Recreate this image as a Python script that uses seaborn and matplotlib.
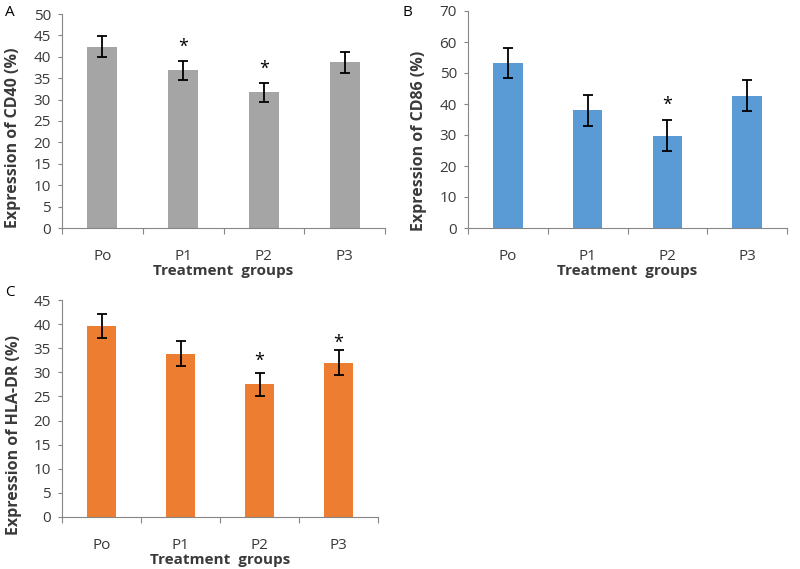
import matplotlib
matplotlib.use("Agg")
import matplotlib.pyplot as plt
import seaborn as sns
import pandas as pd
import numpy as np

groups = ["Po", "P1", "P2", "P3"]

cd40 = [42.4, 36.8, 31.7, 38.7]
cd40_err = [2.4, 2.3, 2.2, 2.4]
cd40_star = [None, 42.3, 37.3, None]

cd86 = [53.3, 38.0, 29.7, 42.7]
cd86_err = [4.9, 5.0, 5.0, 5.0]
cd86_star = [None, None, 39.6, None]

hla = [39.6, 33.9, 27.5, 32.0]
hla_err = [2.4, 2.6, 2.4, 2.6]
hla_star = [None, None, 32.4, 36.2]

plt.rcParams['font.family'] = ['Open Sans', 'DejaVu Sans']
TXT = "#3a3a3a"

fig = plt.figure(figsize=(8.0, 5.69), dpi=100)
W, H = 800, 569

def make_ax(l, r, t, b):
    return fig.add_axes([l / W, 1 - b / H, (r - l) / W, (b - t) / H])

panels = [
    ("A", make_ax(62, 385, 14, 228), cd40, cd40_err, cd40_star, "#A5A5A5", "Expression of CD40 (%)", 50, 5, (5, 12), 0.42),
    ("B", make_ax(468, 787, 11, 228), cd86, cd86_err, cd86_star, "#5B9BD5", "Expression of CD86 (%)", 70, 10, (403, 12), 0.40),
    ("C", make_ax(62, 378, 300, 517), hla, hla_err, hla_star, "#ED7D31", "Expression of HLA-DR (%)", 45, 5, (5, 293), 0.38),
]

for letter, ax, vals, errs, stars, color, ylabel, ymax, step, (lx, ly), ylab_y in panels:
    df = pd.DataFrame({"group": groups, "value": vals})
    sns.barplot(data=df, x="group", y="value", color=color, saturation=1,
                width=0.37, errorbar=None, ax=ax)
    ax.errorbar(np.arange(len(groups)), vals, yerr=errs, fmt="none",
                ecolor="black", elinewidth=1.3, capsize=3.5, capthick=1.3)
    for i, s in enumerate(stars):
        if s is not None:
            ax.text(i, s, "*", ha="center", va="center", fontsize=13,
                    color="black")
    ax.set_xlim(-0.5, 3.5)
    ax.set_ylim(0, ymax)
    ax.set_yticks(np.arange(0, ymax + 0.1, step))
    ax.set_xticks(np.arange(-0.5, 3.6, 1.0), minor=True)
    ax.tick_params(axis="x", which="major", length=0, pad=15, labelsize=11, labelcolor=TXT)
    ax.tick_params(axis="x", which="minor", length=4, color="#868686", width=0.8)
    ax.tick_params(axis="y", length=3, color="#868686", width=0.8, labelsize=11, labelcolor=TXT, pad=5)
    for side in ["top", "right"]:
        ax.spines[side].set_visible(False)
    for side in ["left", "bottom"]:
        ax.spines[side].set_color("#868686")
        ax.spines[side].set_linewidth(0.8)
    ax.set_facecolor("white")
    ax.set_xlabel("Treatment  groups", fontsize=11, fontweight="bold", color=TXT, labelpad=0)
    ax.set_ylabel(ylabel, fontsize=11.5, fontweight="bold", color=TXT)
    ax.yaxis.set_label_coords(-0.128, ylab_y)
    fig.text(lx / W, 1 - ly / H, letter, fontsize=11, color="black", ha="left", va="center")

fig.savefig("out.png", dpi=100, facecolor="white")
